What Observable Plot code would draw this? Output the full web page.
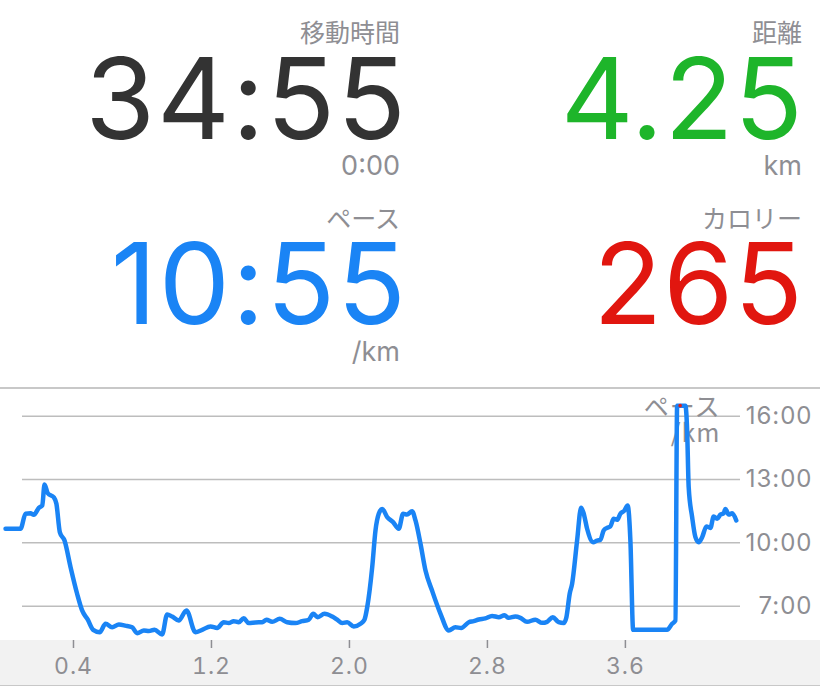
<!DOCTYPE html>
<html>
<head>
<meta charset="utf-8">
<script src="https://cdn.jsdelivr.net/npm/d3@7"></script>
<script src="https://cdn.jsdelivr.net/npm/@observablehq/plot@0.6"></script>
<style>
  html, body { margin: 0; padding: 0; background: #fff; width: 820px; height: 687px; overflow: hidden; }
  #stats { position: relative; width: 820px; height: 387px; }
  .s { position: absolute; white-space: nowrap; line-height: 1; text-align: right; }
  .lab { font-family: "Noto Sans CJK JP", sans-serif; font-size: 25px; color: #8e8e93; }
  .val { font-family: Inter, "Noto Sans", sans-serif; font-size: 113px; font-weight: 400; line-height: 0.75; }
  .unit { font-family: Inter, "Noto Sans", sans-serif; font-size: 27px; color: #8e8e93; }
  #chart { border-top: 2px solid #c8c8c8; width: 820px; }
  #chart svg { display: block; }
  #chart svg text { letter-spacing: 1px; }
</style>
</head>
<body>
<div id="stats"></div>
<div id="chart"></div>
<script>
// ---- summary stats ----
const statLabels = ["移動時間", "距離", "ペース", "カロリー"];
const statValues = ["34:55", "4.25", "10:55", "265"];
const statUnits  = ["0:00", "km", "/km", ""];
const statColors = ["#333333", "#1eb52a", "#1a84f5", "#e1160f"];

// ---- pace chart data (distance km, pace min/km) ----
const km = [0.006,0.093,0.122,0.151,0.170,0.199,0.219,0.232,0.251,0.286,0.301,0.321,0.348,0.383,0.421,0.450,0.483,0.514,0.552,0.586,
0.624,0.663,0.701,0.740,0.769,0.808,0.837,0.870,0.914,0.943,0.972,1.010,1.055,1.107,1.146,1.194,1.233,1.271,1.300,1.329,
1.358,1.387,1.416,1.455,1.494,1.519,1.552,1.596,1.639,1.687,1.726,1.764,1.790,1.816,1.855,1.900,1.929,1.958,1.987,2.025,
2.064,2.087,2.103,2.132,2.151,2.170,2.190,2.219,2.253,2.286,2.311,2.334,2.363,2.383,2.412,2.441,2.479,2.528,2.576,2.614,
2.648,2.692,2.720,2.750,2.788,2.827,2.866,2.899,2.923,2.962,2.991,3.030,3.078,3.117,3.146,3.179,3.213,3.242,3.258,3.277,
3.291,3.320,3.343,3.358,3.378,3.413,3.436,3.455,3.474,3.494,3.513,3.532,3.552,3.571,3.594,3.613,3.629,3.645,3.842,3.871,
3.890,3.900,3.948,3.958,3.967,3.987,4.006,4.025,4.045,4.070,4.093,4.112,4.132,4.151,4.170,4.180,4.199,4.219,4.243];
const pace = [10.67,10.67,11.38,11.40,11.33,11.66,11.77,12.76,12.35,12.16,11.85,10.50,10.11,8.85,7.59,6.80,6.36,5.88,5.77,6.17,
6.00,6.13,6.08,6.00,5.72,5.85,5.82,5.88,5.66,6.61,6.51,6.32,6.80,5.77,5.88,6.04,5.97,6.24,6.20,6.29,
6.24,6.43,6.20,6.23,6.24,6.36,6.26,6.40,6.24,6.20,6.29,6.36,6.64,6.48,6.64,6.51,6.36,6.20,6.24,6.04,
6.17,6.36,6.95,8.85,10.59,11.38,11.61,11.22,10.98,10.67,11.38,11.34,11.50,11.06,9.96,8.69,7.74,6.64,5.85,6.00,
5.97,6.24,6.29,6.37,6.42,6.54,6.48,6.57,6.45,6.51,6.45,6.26,6.36,6.21,6.26,6.48,6.24,6.20,6.48,7.59,
8.06,10.11,11.66,11.40,10.67,10.03,10.11,10.14,10.59,10.71,10.78,11.14,11.09,11.38,11.53,11.77,10.11,5.88,5.88,6.17,
6.32,16.50,16.50,15.32,12.64,11.22,10.27,10.03,10.27,10.78,10.71,11.25,11.14,11.34,11.40,11.61,11.34,11.40,11.06];
const yTicks = [7, 10, 13, 16];
const xTicks = [0.4, 1.2, 2.0, 2.8, 3.6];
const chartLabel = "ペース\n/km";

// ---- build stats block ----
const stats = document.getElementById("stats");
const cols = [{right: 420, vright: 412, ls: 2}, {right: 18, vright: 16, ls: 1}];
const rows = [{lab: 19, val: 56, unit: 152}, {lab: 205, val: 241, unit: 338}];
statLabels.forEach((lab, i) => {
  const c = cols[i % 2], r = rows[Math.floor(i / 2)];
  const a = document.createElement("div");
  a.className = "s lab"; a.textContent = lab;
  a.style.right = c.right + "px"; a.style.top = r.lab + "px";
  stats.appendChild(a);
  const v = document.createElement("div");
  v.className = "s val"; v.textContent = statValues[i];
  v.style.right = c.vright + "px"; v.style.top = r.val + "px"; v.style.color = statColors[i];
  v.style.letterSpacing = c.ls + "px";
  stats.appendChild(v);
  if (statUnits[i]) {
    const u = document.createElement("div");
    u.className = "s unit"; u.textContent = statUnits[i];
    u.style.right = c.right + "px"; u.style.top = r.unit + "px";
    stats.appendChild(u);
  }
});

// ---- chart ----
const data = km.map((k, i) => ({km: k, pace: pace[i]}));
const maxPt = data.reduce((a, b) => (b.pace > a.pace ? b : a));
const gray = "#8e8e93";
const chart = Plot.plot({
  width: 820,
  height: 298,
  marginTop: 0,
  marginBottom: 47,
  marginLeft: 4,
  marginRight: 83,
  x: {domain: [0, 4.25], axis: null},
  y: {domain: [5.375, 17.265], axis: null},
  style: {
    fontFamily: "Inter, 'Noto Sans', sans-serif",
    background: "linear-gradient(to bottom, #ffffff 0px, #ffffff 251px, #f2f2f2 251px, #f2f2f2 296px, #c8c8c8 296px, #c8c8c8 297.5px, #ffffff 297.5px)",
    overflow: "visible"
  },
  marks: [
    Plot.ruleY(yTicks, {stroke: "#bdbdbd", strokeWidth: 1.5, insetLeft: 18, insetRight: -3}),
    Plot.text(yTicks, {y: d => d, text: d => `${d}:00`, frameAnchor: "right", dx: 75, textAnchor: "end", fill: gray, fontSize: 24}),
    Plot.axisX(xTicks, {tickSize: 8, tickPadding: 9, tickFormat: d3.format(".1f"), fontSize: 23, color: gray, strokeWidth: 1.5, label: null}),
    Plot.text([chartLabel], {frameAnchor: "top-right", dx: -17, dy: 8, lineAnchor: "top", textAnchor: "end", fill: gray, fontSize: 25, lineHeight: 1.05, fontFamily: "'Noto Sans CJK JP', sans-serif"}),
    Plot.line(data, {x: "km", y: "pace", stroke: "#1a84f5", strokeWidth: 4.5, strokeLinejoin: "round", strokeLinecap: "round", curve: "monotone-x"}),
    Plot.dot([maxPt], {x: "km", y: "pace", dx: 3, r: 1.8, fill: "#e0201a"})
  ]
});
document.getElementById("chart").appendChild(chart);
</script>
</body>
</html>
